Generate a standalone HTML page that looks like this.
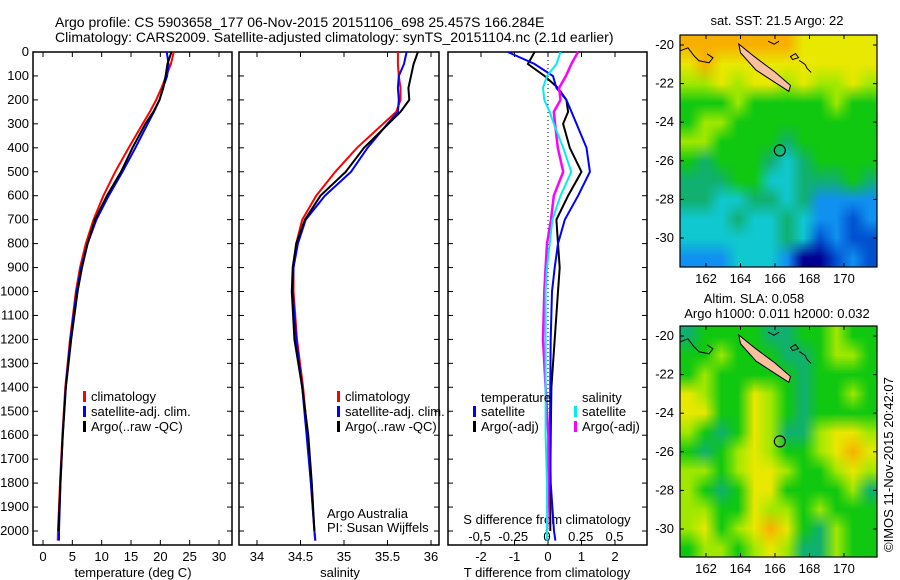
<!DOCTYPE html>
<html><head><meta charset="utf-8">
<style>
body{margin:0;background:#fff;}
#wrap{position:relative;width:900px;height:580px;}
canvas{position:absolute;}
svg{position:absolute;left:0;top:0;display:block;font-family:"Liberation Sans",sans-serif;}
text{font-size:13px;fill:#000;}
</style></head>
<body>
<div id="wrap">
<canvas id="m1" width="12" height="12" style="left:680px;top:35px;width:197px;height:232px;"></canvas>
<canvas id="m2" width="12" height="12" style="left:680px;top:326px;width:197px;height:231px;"></canvas>
<svg id="c" width="900" height="580" viewBox="0 0 900 580">
<text x="55" y="27" style="font-size:14px">Argo profile: CS 5903658_177 06-Nov-2015 20151106_698 25.457S 166.284E</text>
<text x="55" y="42" style="font-size:14px">Climatology: CARS2009. Satellite-adjusted climatology: synTS_20151104.nc (2.1d earlier)</text>
</svg>
</div>
<script>
const depths=[0,50,100,150,200,250,300,400,500,600,700,800,900,1000,1200,1400,1600,1800,2000,2040];
const tempClim=[22.3,21.8,21,20.2,19.3,18.2,17,14.6,12.3,10.3,8.6,7.3,6.3,5.6,4.6,3.8,3.3,2.9,2.55,2.5];
const salClim=[35.62,35.62,35.63,35.65,35.65,35.6,35.45,35.15,34.9,34.68,34.52,34.45,34.42,34.42,34.46,34.53,34.58,34.62,34.66,34.67];
const tSatDiff=[-1.2,-0.4,0.15,0.25,0.55,0.7,0.85,1.15,1.25,0.9,0.5,0.3,0.2,0.12,0.08,0.07,0.06,0.08,0.18,0.22];
const tArgoDiff=[-0.4,-0.6,-0.1,0.3,0.55,0.6,0.45,0.65,1.0,0.6,0.25,0.3,0.35,0.3,0.2,0.1,0.08,0.07,0.07,0.07];
const sSatDiff=[0.1,0.07,0.0,-0.03,-0.02,0.02,0.05,0.12,0.18,0.1,0.04,0.02,0.0,-0.01,-0.01,-0.01,-0.01,0,0,0];
const sArgoDiff=[0.23,0.18,0.14,0.09,0.1,0.05,0.06,0.08,0.12,0.05,0.03,0.0,-0.01,-0.02,-0.03,-0.01,0.01,0.01,0,0];
const depthTicks=[0,100,200,300,400,500,600,700,800,900,1000,1100,1200,1300,1400,1500,1600,1700,1800,1900,2000];
const tempTicks=[0,5,10,15,20,25,30];
const salTicks=[34,34.5,35,35.5,36];
const tdTicks=[-2,-1,0,1,2];
const sdTicks=[-0.5,-0.25,0,0.25,0.5];
const sstGrid=["OOOOOOOYYYYY","YOYYYYYYYYYY","LLYLYYLYLLYL","GGGLGGGGGLGG","GLLGGGGGGGGG","LLGGGGTGGGGG","GTGGGTCTGGGG","TTTGGCCTTTGT","TTCCTTCTBBBB","CCCTCCTCBBDB","CCCCCCTCDBDD","BBBCCCBNNDBD"];
const slaGrid=["TGGGGTTGGLGG","GGLGGGTTGLLG","GLGGGGGTGGGG","YLGGYLGTGGLG","YYGGYLGTGGGG","LGTGYLTTLYYL","GTGLYLGGLYOY","LLGLYYLGGLYL","LGTGYYGGGGLT","LLGGYLLGLGGG","LYGLYOYGTLGG","GLLGLYLTTLGG"];
const latTicks=[-20,-22,-24,-26,-28,-30];
const lonTicks=[162,164,166,168,170];

const svg=document.getElementById('c');const NS='http://www.w3.org/2000/svg';
function el(t,a,p){const e=document.createElementNS(NS,t);for(const k in a)e.setAttribute(k,a[k]);(p||svg).appendChild(e);return e;}
function txt(x,y,s,anchor,p){const e=el('text',{x:x,y:y,'text-anchor':anchor||'start'},p);e.textContent=s;return e;}
const TOP=52,BOT=545;
const yD=d=>TOP+d*(531-TOP)/2000;
const xT=v=>43+v*(219-43)/30;
const xS=v=>257+(v-34)*(431-257)/2;
const xTD=v=>548+v*33.5;
const xSD=v=>547+v*135;

function frame(x0,x1,name,yticks){
  const g=el('g',{});
  
  
  el('rect',{x:x0,y:TOP,width:x1-x0,height:BOT-TOP,fill:'none',stroke:'#000','stroke-width':1.5},g);
  depthTicks.forEach(d=>{el('line',{x1:x0,x2:x0+5,y1:yD(d),y2:yD(d),stroke:'#000'},g);el('line',{x1:x1,x2:x1-5,y1:yD(d),y2:yD(d),stroke:'#000'},g);
    if(yticks){txt(x0-4,yD(d)+4,String(d),'end',g);}});
  return g;
}
function line(xs,ys,color,w,name,p){
  const pts=xs.map((x,i)=>x.toFixed(1)+','+ys[i].toFixed(1)).join(' ');
  const e=el('polyline',{points:pts,fill:'none',stroke:color,'stroke-width':w},p);
  
  
  return e;
}
function xticks(g,ticks,fx,y,lab){ticks.forEach(v=>{const x=fx(v);el('line',{x1:x,x2:x,y1:BOT,y2:BOT-5,stroke:'#000'},g);el('line',{x1:x,x2:x,y1:TOP,y2:TOP+5,stroke:'#000'},g);if(lab)txt(x,y,String(v),'middle',g);});}
function legend(g,x,y,items){items.forEach((it,i)=>{el('rect',{x:x,y:y+i*15-10,width:3,height:11,fill:it[0]},g);txt(x+8,y+i*15,it[1],'start',g);});}
const ys=depths.map(yD);

const g1=frame(33,232,'temperature-panel',true);
xticks(g1,tempTicks,xT,561,true);
txt(133,577,'temperature (deg C)','middle',g1);
line(tempClim.map(xT),ys,'#f00',2,'temp-climatology-line',g1);
line(tempClim.map((v,i)=>xT(v+tSatDiff[i])),ys,'#00f',2,'temp-satellite-line',g1);
line(tempClim.map((v,i)=>xT(v+tArgoDiff[i])).slice(0,19),ys.slice(0,19),'#000',2,'temp-argo-line',g1);
legend(g1,83,401,[['#f00','climatology'],['#00f','satellite-adj. clim.'],['#000','Argo(..raw -QC)']]);

const g2=frame(239,439,'salinity-panel',false);
xticks(g2,salTicks,xS,561,true);
txt(340,577,'salinity','middle',g2);
line(salClim.map(xS),ys,'#f00',2,'sal-climatology-line',g2);
line(salClim.map((v,i)=>xS(v+sSatDiff[i])),ys,'#00f',2,'sal-satellite-line',g2);
line(salClim.map((v,i)=>xS(v+sArgoDiff[i])).slice(0,19),ys.slice(0,19),'#000',2,'sal-argo-line',g2);
legend(g2,337,401,[['#f00','climatology'],['#00f','satellite-adj. clim.'],['#000','Argo(..raw -QC)']]);
txt(327,518,'Argo Australia','start',g2);txt(327,532,'PI: Susan Wijffels','start',g2);

const g3=frame(448,647,'difference-panel',false);
xticks(g3,tdTicks,xTD,561,true);
el('line',{x1:xTD(0),x2:xTD(0),y1:TOP,y2:BOT,stroke:'#000','stroke-dasharray':'1,3'},g3);
sdTicks.forEach(v=>txt(xSD(v),541,String(v),'middle',g3));
txt(547,524,'S difference from climatology','middle',g3);
txt(547,577,'T difference from climatology','middle',g3);
line(tArgoDiff.map(xTD).slice(0,19),ys.slice(0,19),'#000',2,'tdiff-argo-line',g3);
line(tSatDiff.map(xTD),ys,'#00f',2,'tdiff-satellite-line',g3);
line(sArgoDiff.map(xSD).slice(0,19),ys.slice(0,19),'#f0f',2.5,'sdiff-argo-line',g3);
line(sSatDiff.map(xSD),ys,'#0ee',2,'sdiff-satellite-line',g3);
txt(481,402,'temperature','start',g3);txt(582,402,'salinity','start',g3);
legend(g3,473,416,[['#00f','satellite'],['#000','Argo(-adj)']]);
legend(g3,574,416,[['#0ee','satellite'],['#f0f','Argo(-adj)']]);

const COL={O:'#f8b000',Y:'#e8e800',L:'#a0e800',G:'#10c810',T:'#10b070',C:'#10c8d0',B:'#1090f0',D:'#0050d0',N:'#000090'};
function paint(id,grid){
  const cv=document.getElementById(id);const ctx=cv.getContext('2d');
  grid.forEach((row,r)=>row.split('').forEach((c,k)=>{ctx.fillStyle=COL[c];ctx.fillRect(k,r,1,1);}));
}
paint('m1',sstGrid);paint('m2',slaGrid);
function map(y0,y1,lat20,lat30,name,title){
  const x0=680,x1=877;
  const g=el('g',{});
  
  
  const fy=l=>lat20+(l+20)*(lat30-lat20)/(-10);
  const fx=l=>706+(l-162)*17.25;
  el('polygon',{points:`${fx(163.9)},${fy(-19.95)} ${fx(164.8)},${fy(-20.6)} ${fx(166)},${fy(-21.4)} ${fx(166.9)},${fy(-22.1)} ${fx(166.8)},${fy(-22.4)} ${fx(166.1)},${fy(-22.0)} ${fx(164.9)},${fy(-21.3)} ${fx(164)},${fy(-20.4)}`,fill:'#f8c09c',stroke:'#000','stroke-width':1},g);
  el('path',{d:`M${x0},${fy(-20.3)} l8,-3 l6,8 l5,5 l10,2 l4,-5 l-6,-4 M${fx(165.6)},${fy(-19.8)} l6,3 l5,-3 M${fx(166.9)},${fy(-20.6)} l5,-3 l3,4 l-6,2z M${fx(167.4)},${fy(-20.8)} l6,4 l2,4 l4,4`,fill:'none',stroke:'#000','stroke-width':1},g);
  el('circle',{cx:fx(166.28),cy:fy(-25.46),r:5.5,fill:'none',stroke:'#000','stroke-width':1.2},g);
  el('rect',{x:x0,y:y0,width:x1-x0,height:y1-y0,fill:'none',stroke:'#000','stroke-width':1.2},g);
  latTicks.forEach(l=>{const y=fy(l);el('line',{x1:x0,x2:x0+4,y1:y,y2:y,stroke:'#000'},g);el('line',{x1:x1,x2:x1-4,y1:y,y2:y,stroke:'#000'},g);txt(x0-6,y+4,String(l),'end',g);});
  lonTicks.forEach(l=>{const x=fx(l);el('line',{x1:x,x2:x,y1:y1,y2:y1-4,stroke:'#000'},g);el('line',{x1:x,x2:x,y1:y0,y2:y0+4,stroke:'#000'},g);txt(x,y1+16,String(l),'middle',g);});
  title.forEach(t=>txt(t[0],t[1],t[2],'middle',g));
}
map(35,267,45,238,'sst-map',[[777,25,'sat. SST: 21.5  Argo: 22']]);
map(326,557,336,529,'sla-map',[[754,303,'Altim. SLA: 0.058'],[777,318,'Argo h1000: 0.011 h2000: 0.032']]);
const cp=txt(0,0,'©IMOS 11-Nov-2015 20:42:07','start');
cp.setAttribute('transform','translate(893,552) rotate(-90)');


</script>
</body></html>
